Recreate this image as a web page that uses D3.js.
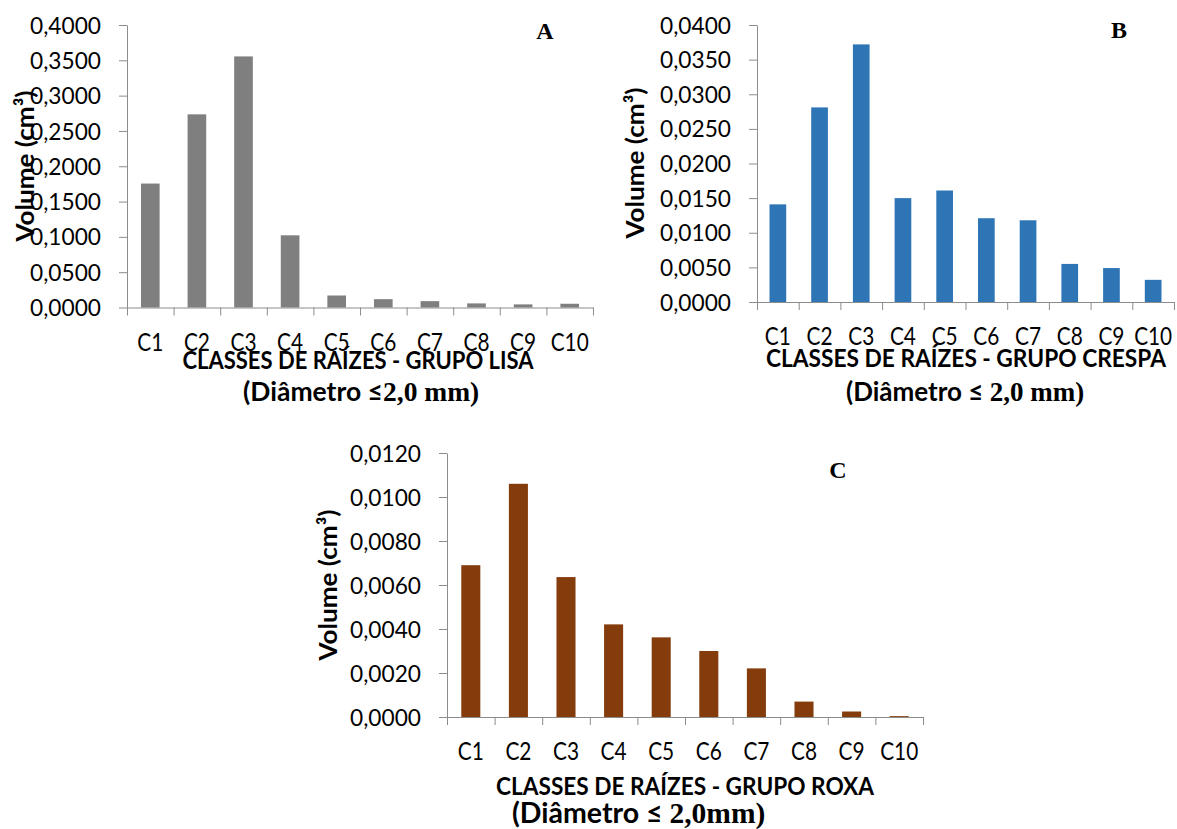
<!DOCTYPE html>
<html>
<head>
<meta charset="utf-8">
<script src="https://cdn.jsdelivr.net/npm/d3@7/dist/d3.min.js"></script>
<style>
  html, body { margin: 0; padding: 0; background: #fff; }
  svg { display: block; }
</style>
</head>
<body>
<svg id="chart" width="1177" height="829"></svg>
<script>
// ---------------- DATA ----------------
const categories = ["C1","C2","C3","C4","C5","C6","C7","C8","C9","C10"];

const lisaValues   = [0.1755, 0.2735, 0.3555, 0.1022, 0.0170, 0.0118, 0.0090, 0.0058, 0.0044, 0.0053];
const crespaValues = [0.0141, 0.0281, 0.0372, 0.0150, 0.0161, 0.0121, 0.0118, 0.0055, 0.0049, 0.0032];
const roxaValues   = [0.0069, 0.0106, 0.00636, 0.00421, 0.00362, 0.0030, 0.00221, 0.0007, 0.00025, 0.00004];

const lisaTicks   = [0, 0.05, 0.10, 0.15, 0.20, 0.25, 0.30, 0.35, 0.40];
const crespaTicks = [0, 0.005, 0.010, 0.015, 0.020, 0.025, 0.030, 0.035, 0.040];
const roxaTicks   = [0, 0.002, 0.004, 0.006, 0.008, 0.010, 0.012];

const yTitle = "Volume (cm³)";
const panelLetters = ["A", "B", "C"];
const xTitles = ["CLASSES DE RAÍZES - GRUPO LISA", "CLASSES DE RAÍZES - GRUPO CRESPA", "CLASSES DE RAÍZES - GRUPO ROXA"];
const subTitleSans = ["(Diâmetro ≤", "(Diâmetro ≤ ", "(Diâmetro ≤ "];
const subTitleSerif = ["2,0 mm)", "2,0 mm)", "2,0mm)"];

// ---------------- LAYOUT ----------------
const panels = [
  { values: lisaValues, ticks: lisaTicks, color: "#7f7f7f",
    x0: 127, x1: 593, yTop: 25, yZero: 307.5,
    yTitleX: 25, yTitleY: 166, letterX: 545, letterY: 39,
    t1X: 358, t1Y: 369, t1W: 351, t2X: 243, t2Y: 401, t2Size: 26.5 },
  { values: crespaValues, ticks: crespaTicks, color: "#2e75b6",
    x0: 757, x1: 1174, yTop: 25, yZero: 302,
    yTitleX: 635, yTitleY: 163, letterX: 1119, letterY: 38,
    t1X: 966, t1Y: 367, t1W: 400, t2X: 846, t2Y: 401, t2Size: 26 },
  { values: roxaValues, ticks: roxaTicks, color: "#843c0c",
    x0: 447, x1: 923, yTop: 453, yZero: 717,
    yTitleX: 328, yTitleY: 585, letterX: 838, letterY: 478,
    t1X: 685, t1Y: 795, t1W: 378, t2X: 512, t2Y: 823, t2Size: 28.5 }
];

const svg = d3.select("#chart");
const axisColor = "#8c8c8c";
const sans = "Lato, 'Open Sans', 'Noto Sans', sans-serif";
const serif = "'Liberation Serif', 'DejaVu Serif', serif";
const fmt = v => d3.format(".4f")(v).replace(".", ",");

panels.forEach((p, i) => {
  const g = svg.append("g");
  const maxTick = p.ticks[p.ticks.length - 1];

  const y = d3.scaleLinear().domain([0, maxTick]).range([p.yZero, p.yTop]);
  const x = d3.scaleBand().domain(categories).range([p.x0, p.x1])
              .paddingInner(0.6).paddingOuter(0.3);
  const xEdge = d3.scaleLinear().domain([0, categories.length]).range([p.x0, p.x1]);

  // bars
  g.selectAll("rect.bar").data(p.values).join("rect")
    .attr("class", "bar")
    .attr("x", (d, j) => x(categories[j]))
    .attr("width", x.bandwidth())
    .attr("y", d => y(d))
    .attr("height", d => y(0) - y(d))
    .attr("fill", p.color);

  // y axis
  const yAxis = g.append("g").attr("transform", `translate(${p.x0},0)`)
    .call(d3.axisLeft(y).tickValues(p.ticks).tickSize(8).tickSizeOuter(0).tickPadding(18).tickFormat(fmt));
  yAxis.select(".domain").attr("stroke", axisColor);
  yAxis.selectAll(".tick line").attr("stroke", axisColor);
  yAxis.selectAll(".tick text")
    .attr("font-family", sans).attr("font-size", 22.5).attr("fill", "#000")
    .attr("dy", "0.36em")
    .attr("textLength", 71).attr("lengthAdjust", "spacingAndGlyphs");

  // x axis
  const xAxis = g.append("g").attr("transform", `translate(0,${p.yZero})`)
    .call(d3.axisBottom(xEdge).tickValues(d3.range(categories.length + 1)).tickSize(8).tickSizeOuter(0).tickFormat(""));
  xAxis.select(".domain").attr("stroke", axisColor);
  xAxis.selectAll(".tick line").attr("stroke", axisColor);

  // category labels
  g.selectAll("text.cat").data(categories).join("text")
    .attr("class", "cat")
    .attr("x", d => x(d) + x.bandwidth() / 2)
    .attr("y", p.yZero + 43)
    .attr("text-anchor", "middle")
    .attr("font-family", sans).attr("font-size", 25).attr("fill", "#000")
    .attr("textLength", d => d.length > 2 ? 38 : 26)
    .attr("lengthAdjust", "spacingAndGlyphs")
    .text(d => d);

  // y title
  g.append("text")
    .attr("transform", `translate(${p.yTitleX},${p.yTitleY}) rotate(-90)`)
    .attr("text-anchor", "middle").attr("dy", "0.36em")
    .attr("font-family", sans).attr("font-weight", "bold").attr("font-size", 24)
    .attr("textLength", 151).attr("lengthAdjust", "spacingAndGlyphs")
    .text(yTitle);

  // panel letter
  g.append("text")
    .attr("x", p.letterX).attr("y", p.letterY)
    .attr("text-anchor", "middle")
    .attr("font-family", serif).attr("font-weight", "bold").attr("font-size", 24)
    .text(panelLetters[i]);

  // x title line 1
  g.append("text")
    .attr("x", p.t1X).attr("y", p.t1Y)
    .attr("text-anchor", "middle")
    .attr("font-family", sans).attr("font-weight", "bold").attr("font-size", 25)
    .attr("textLength", p.t1W)
    .attr("lengthAdjust", "spacingAndGlyphs")
    .text(xTitles[i]);

  // x title line 2
  const t2 = g.append("text")
    .attr("x", p.t2X).attr("y", p.t2Y)
    .attr("font-weight", "bold").attr("font-size", p.t2Size);
  t2.append("tspan").attr("font-family", sans).text(subTitleSans[i]);
  t2.append("tspan").attr("font-family", serif).attr("font-size", p.t2Size + 1).text(subTitleSerif[i]);
});
</script>
</body>
</html>
